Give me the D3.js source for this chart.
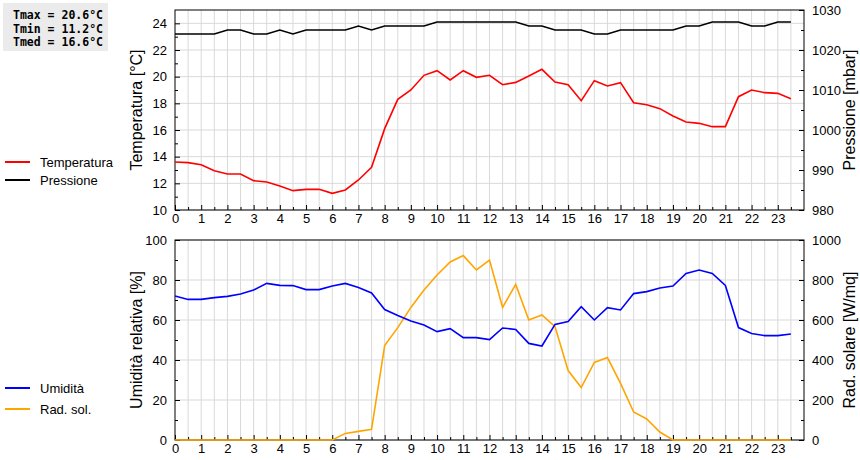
<!DOCTYPE html>
<html><head><meta charset="utf-8">
<script src="https://cdn.jsdelivr.net/npm/d3@7"></script>
<style>body{margin:0;background:#fff}svg{font-family:"Liberation Sans",Arial,sans-serif}</style>
</head><body><svg id="c" width="860" height="460"></svg>
<script>
const hours = d3.range(0, 24, 0.5);
const temperature = [13.6,13.55,13.4,12.95,12.7,12.7,12.2,12.1,11.8,11.45,11.55,11.55,11.25,11.5,12.25,13.2,16.1,18.3,19.0,20.1,20.45,19.75,20.45,19.95,20.1,19.4,19.57,20.05,20.55,19.6,19.4,18.2,19.7,19.3,19.55,18.05,17.9,17.6,17.05,16.6,16.5,16.25,16.25,18.5,19.0,18.8,18.75,18.35];
const pressure = [1024,1024,1024,1024,1025,1025,1024,1024,1025,1024,1025,1025,1025,1025,1026,1025,1026,1026,1026,1026,1027,1027,1027,1027,1027,1027,1027,1026,1026,1025,1025,1025,1024,1024,1025,1025,1025,1025,1025,1026,1026,1027,1027,1027,1026,1026,1027,1027];
const humidity = [72,70.3,70.3,71.2,71.8,73,75,78.3,77.3,77.2,75.2,75.2,77,78.3,76.3,73.5,65.2,62.2,59.5,57.5,54.2,55.7,51.2,51.2,50.2,56,55.3,48.3,47,57.8,59.2,66.7,60,66.2,65,73.2,74.2,76,77,83.3,85,83.3,77.3,56.2,53.2,52.2,52.2,53];
const solar = [0,0,0,0,0,0,0,0,0,0,0,0,0,33,43,53,472,562,663,750,825,890,922,850,900,663,778,600,625,567,347,262,388,412,283,140,105,40,0,0,0,0,0,0,0,0,0,0];
const tempTicks = [10,12,14,16,18,20,22,24];
const pressTicks = [980,990,1000,1010,1020,1030];
const humTicks = [0,20,40,60,80,100];
const solTicks = [0,200,400,600,800,1000];
const hourTicks = d3.range(0, 24, 1);
const stats = ["Tmax = 20.6°C","Tmin = 11.2°C","Tmed = 16.6°C"];

const svg = d3.select("#c");
const L = 175, R = 804;
const x = d3.scaleLinear().domain([0,24]).range([L,R]);

function panel(top, bottom, yL, yR, lTicks, rTicks, lLab, rLab, s1, s2, c1, c2, minorL, minorR) {
  const g = svg.append("g");
  g.selectAll(".vg").data(d3.range(0.5, 24, 0.5)).join("line")
    .attr("x1", d=>x(d)).attr("x2", d=>x(d)).attr("y1", top).attr("y2", bottom)
    .attr("stroke", "#d9d9d9");
  g.selectAll(".hg").data(lTicks).join("line")
    .attr("x1", L).attr("x2", R).attr("y1", d=>yL(d)).attr("y2", d=>yL(d))
    .attr("stroke", "#d9d9d9");
  g.append("rect").attr("x", L).attr("y", top).attr("width", R-L).attr("height", bottom-top)
    .attr("fill", "none").attr("stroke", "#000");
  const la = g.append("g").attr("transform", `translate(${L},0)`)
    .call(d3.axisLeft(yL).tickValues(lTicks).tickSize(-5).tickPadding(8).tickFormat(d3.format("d")));
  la.select(".domain").remove();
  g.append("g").attr("transform", `translate(${L},0)`)
    .call(d3.axisLeft(yL).tickValues(minorL).tickSize(-3).tickFormat("")).select(".domain").remove();
  const ra = g.append("g").attr("transform", `translate(${R},0)`)
    .call(d3.axisRight(yR).tickValues(rTicks).tickSize(-5).tickPadding(8).tickFormat(d3.format("d")));
  ra.select(".domain").remove();
  g.append("g").attr("transform", `translate(${R},0)`)
    .call(d3.axisRight(yR).tickValues(minorR).tickSize(-3).tickFormat("")).select(".domain").remove();
  const xa = g.append("g").attr("transform", `translate(0,${bottom})`)
    .call(d3.axisBottom(x).tickValues(hourTicks).tickSize(-5).tickPadding(4).tickFormat(d3.format("d")));
  xa.select(".domain").remove();
  g.append("g").attr("transform", `translate(0,${bottom})`)
    .call(d3.axisBottom(x).tickValues(d3.range(0.5,24,1)).tickSize(-3).tickFormat("")).select(".domain").remove();
  g.selectAll(".tick text").attr("font-size", 13).attr("fill", "#000")
    .attr("font-family", '"Liberation Sans",Arial,sans-serif');
  g.selectAll(".tick line").attr("stroke", "#000");
  const mid = (top+bottom)/2;
  g.append("text").attr("transform", `translate(142,${mid}) rotate(-90)`).attr("text-anchor","middle")
    .attr("font-size", 16).text(lLab);
  g.append("text").attr("transform", `translate(855,${mid}) rotate(-90)`).attr("text-anchor","middle")
    .attr("font-size", 16).text(rLab);
  const l1 = d3.line().x((d,i)=>x(hours[i])).y(d=>yL(d));
  const l2 = d3.line().x((d,i)=>x(hours[i])).y(d=>yR(d));
  g.append("path").datum(s2).attr("d", l2).attr("fill","none").attr("stroke", c2).attr("stroke-width", 1.6);
  g.append("path").datum(s1).attr("d", l1).attr("fill","none").attr("stroke", c1).attr("stroke-width", 1.6);
}

const yT = d3.scaleLinear().domain([10,25]).range([210,10]);
const yP = d3.scaleLinear().domain([980,1030]).range([210,10]);
panel(10, 210, yT, yP, tempTicks, pressTicks, "Temperatura [°C]", "Pressione [mbar]",
  temperature, pressure, "#ff0000", "#000000", d3.range(11,25,2), d3.range(985,1030,10));
const yH = d3.scaleLinear().domain([0,100]).range([440,240]);
const yS = d3.scaleLinear().domain([0,1000]).range([440,240]);
panel(240, 440, yH, yS, humTicks, solTicks, "Umidità relativa [%]", "Rad. solare [W/mq]",
  humidity, solar, "#0000ff", "#ffa500", d3.range(10,100,20), d3.range(100,1000,200));

svg.append("rect").attr("x",3).attr("y",3).attr("width",105).attr("height",48).attr("fill","#ebebeb");
svg.selectAll(".st").data(stats).join("text").attr("x",13).attr("y",(d,i)=>19+i*13.5)
  .attr("font-family",'"DejaVu Sans Mono",monospace').attr("font-weight","bold").attr("font-size",11.5)
  .text(d=>d);

const leg = [["Temperatura","#ff0000",162],["Pressione","#000000",180],["Umidità","#0000ff",388],["Rad. sol.","#ffa500",409]];
leg.forEach(([t,c,y])=>{
  svg.append("line").attr("x1",5).attr("x2",30).attr("y1",y).attr("y2",y).attr("stroke",c).attr("stroke-width",2);
  svg.append("text").attr("x",40).attr("y",y+5).attr("font-size",13).text(t);
});
</script></body></html>
